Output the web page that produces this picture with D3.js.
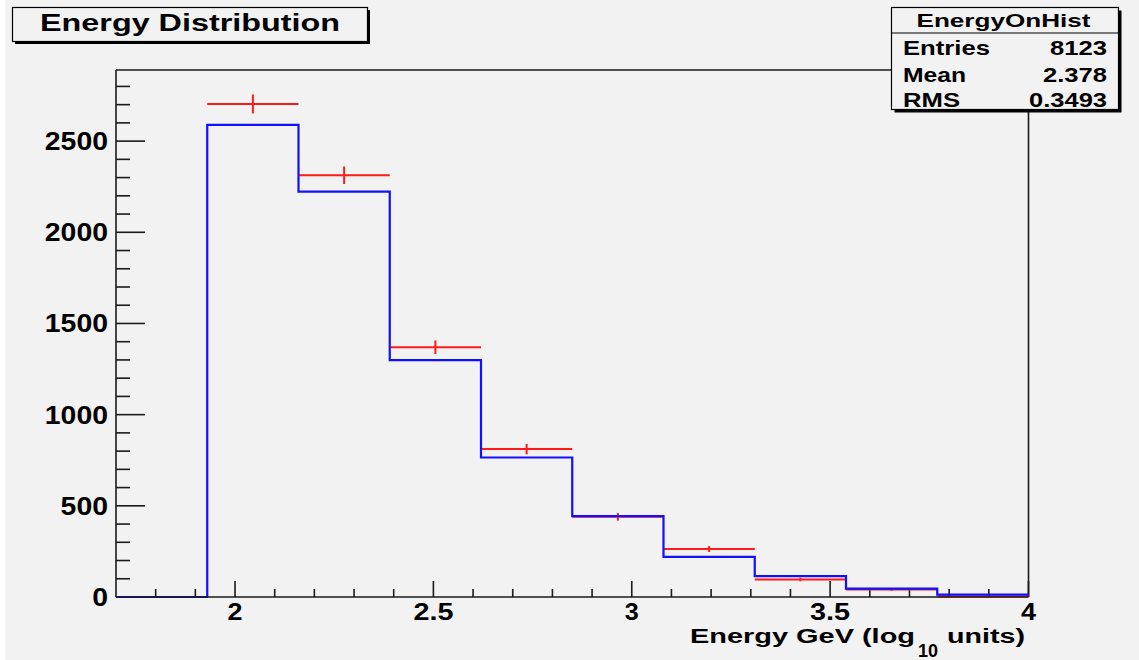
<!DOCTYPE html>
<html>
<head>
<meta charset="utf-8">
<script src="https://cdn.jsdelivr.net/npm/d3@7"></script>
<style>
  html, body { margin: 0; padding: 0; background: #ffffff; }
  svg { display: block; }
  text { font-family: "Liberation Sans", Arial, Helvetica, sans-serif; font-weight: bold; fill: #000; }
</style>
</head>
<body>
<svg id="chart" width="1139" height="660"></svg>
<script>
// Histogram binning: 10 bins of width 0.23 from 1.70 to 4.00 (log10 GeV)
const binLowEdges = [1.70, 1.93, 2.16, 2.39, 2.62, 2.85, 3.08, 3.31, 3.54, 3.77];
const binWidth = 0.23;

// "EnergyOnHist" contents (red points with sqrt(N) errors)
const onCounts = [0, 2704, 2313, 1370, 811, 440, 263, 96, 41, 3];
// Comparison histogram contents (blue outline)
const offCounts = [0, 2589, 2223, 1299, 765, 443, 220, 114, 46, 13];

// Axis tick labels
const xTickValues = [2, 2.5, 3, 3.5, 4];
const xTickLabels = ["2", "2.5", "3", "3.5", "4"];
const yTickValues = [0, 500, 1000, 1500, 2000, 2500];
const yTickLabels = ["0", "500", "1000", "1500", "2000", "2500"];

// Statistics box rows
const statsTitle = "EnergyOnHist";
const statsNames = ["Entries", "Mean", "RMS"];
const statsValues = ["8123", "2.378", "0.3493"];

const chartTitle = "Energy Distribution";

const svg = d3.select("#chart");
const W = 1139, H = 660;

// canvas
svg.append("rect").attr("x", 0).attr("y", 0).attr("width", W).attr("height", H).attr("fill", "#ffffff");
svg.append("rect").attr("x", 5).attr("y", 0).attr("width", W - 5).attr("height", H).attr("fill", "#f2f2f2");

// frame geometry
const fx0 = 116, fx1 = 1028.5, fy0 = 70, fy1 = 597;
const x = d3.scaleLinear().domain([1.70, 4.00]).range([fx0, fx1]);
const y = d3.scaleLinear().domain([0, 2890]).range([fy1, fy0]);

const axisColor = "#1a1a1a";

// frame outline (top and right)
svg.append("path")
  .attr("d", `M${fx0},${fy0}H${fx1}V${fy1}`)
  .attr("fill", "none").attr("stroke", axisColor).attr("stroke-width", 1.6);

// Y axis with inward ticks
const yMinor = d3.range(0, 2890, 100);
const gy = svg.append("g");
gy.selectAll("line.minor").data(yMinor.filter(v => v % 500 !== 0)).join("line")
  .attr("x1", fx0).attr("x2", fx0 + 14)
  .attr("y1", d => y(d)).attr("y2", d => y(d))
  .attr("stroke", axisColor).attr("stroke-width", 1.6);
gy.selectAll("line.major").data(yTickValues).join("line")
  .attr("x1", fx0).attr("x2", fx0 + 29)
  .attr("y1", d => y(d)).attr("y2", d => y(d))
  .attr("stroke", axisColor).attr("stroke-width", 1.6);
gy.selectAll("text").data(yTickValues).join("text")
  .attr("x", 108).attr("y", d => y(d) + 9)
  .attr("text-anchor", "end")
  .attr("font-size", 25)
  .attr("textLength", (d, i) => yTickLabels[i].length * 15.8)
  .attr("lengthAdjust", "spacingAndGlyphs")
  .text((d, i) => yTickLabels[i]);
gy.append("line").attr("x1", fx0).attr("x2", fx0).attr("y1", fy0).attr("y2", fy1)
  .attr("stroke", axisColor).attr("stroke-width", 1.6);

// X axis with inward ticks
const xMinor = d3.range(18, 40).map(v => v / 10);
const gx = svg.append("g");
gx.selectAll("line.minor").data(xMinor.filter(v => Math.abs(v * 2 - Math.round(v * 2)) > 1e-6)).join("line")
  .attr("x1", d => x(d)).attr("x2", d => x(d))
  .attr("y1", fy1).attr("y2", fy1 - 8)
  .attr("stroke", axisColor).attr("stroke-width", 1.6);
gx.selectAll("line.major").data(xTickValues).join("line")
  .attr("x1", d => x(d)).attr("x2", d => x(d))
  .attr("y1", fy1).attr("y2", fy1 - 16)
  .attr("stroke", axisColor).attr("stroke-width", 1.6);
const xLabelWidths = { "2": 15, "2.5": 40, "3": 14, "3.5": 40, "4": 15 };
gx.selectAll("text").data(xTickValues).join("text")
  .attr("x", d => x(d)).attr("y", 619.5)
  .attr("text-anchor", "middle")
  .attr("font-size", 23)
  .attr("textLength", (d, i) => xLabelWidths[xTickLabels[i]])
  .attr("lengthAdjust", "spacingAndGlyphs")
  .text((d, i) => xTickLabels[i]);

// red error-bar points (EnergyOnHist)
const onPts = binLowEdges.map((lo, i) => ({ lo, hi: lo + binWidth, c: lo + binWidth / 2, v: onCounts[i] }))
  .filter(d => d.v > 0);
const gOn = svg.append("g").attr("stroke", "#ff1a1a").attr("stroke-width", 2).attr("fill", "none");
gOn.selectAll("line.h").data(onPts).join("line")
  .attr("x1", d => x(d.lo)).attr("x2", d => x(d.hi))
  .attr("y1", d => y(d.v)).attr("y2", d => y(d.v));
gOn.selectAll("line.v").data(onPts).join("line")
  .attr("x1", d => x(d.c)).attr("x2", d => x(d.c))
  .attr("y1", d => y(d.v - Math.sqrt(d.v))).attr("y2", d => y(d.v + Math.sqrt(d.v)));

// blue step outline
const stepData = [];
binLowEdges.forEach((lo, i) => {
  stepData.push([lo, offCounts[i]]);
  stepData.push([lo + binWidth, offCounts[i]]);
});
const stepLine = d3.line().x(d => x(d[0])).y(d => y(d[1]));
svg.append("path")
  .attr("d", stepLine(stepData))
  .attr("fill", "none").attr("stroke", "#1010ff").attr("stroke-width", 2.2);

// bottom axis line on top of everything inside the frame
svg.append("line").attr("x1", fx0).attr("x2", fx1).attr("y1", fy1).attr("y2", fy1)
  .attr("stroke", axisColor).attr("stroke-width", 1.6);

// X axis title: Energy GeV (log_10 units)
svg.append("text").attr("x", 690).attr("y", 642.5).attr("font-size", 20)
  .attr("textLength", 225).attr("lengthAdjust", "spacingAndGlyphs").text("Energy GeV (log");
svg.append("text").attr("x", 918).attr("y", 657).attr("font-size", 17.5)
  .attr("textLength", 20).attr("lengthAdjust", "spacingAndGlyphs").text("10");
svg.append("text").attr("x", 947).attr("y", 642.5).attr("font-size", 20)
  .attr("textLength", 78).attr("lengthAdjust", "spacingAndGlyphs").text("units)");

// Title box with shadow
svg.append("rect").attr("x", 15).attr("y", 10).attr("width", 355).attr("height", 34).attr("fill", "#000");
svg.append("rect").attr("x", 12.5).attr("y", 7.5).attr("width", 355).attr("height", 34)
  .attr("fill", "#f2f2f2").attr("stroke", "#000").attr("stroke-width", 1.2);
svg.append("text").attr("x", 40).attr("y", 30.5).attr("font-size", 23.5)
  .attr("textLength", 300).attr("lengthAdjust", "spacingAndGlyphs").text(chartTitle);

// Statistics box with shadow
const sx0 = 891.5, sy0 = 7.5, sw = 227, sh = 102;
svg.append("rect").attr("x", sx0 + 3).attr("y", sy0 + 3).attr("width", sw).attr("height", sh).attr("fill", "#000");
svg.append("rect").attr("x", sx0).attr("y", sy0).attr("width", sw).attr("height", sh)
  .attr("fill", "#f2f2f2").attr("stroke", "#000").attr("stroke-width", 1.2);
svg.append("line").attr("x1", sx0).attr("x2", sx0 + sw).attr("y1", 33).attr("y2", 33)
  .attr("stroke", "#000").attr("stroke-width", 1.2);
svg.append("text").attr("x", 1003.5).attr("y", 27).attr("font-size", 19)
  .attr("text-anchor", "middle")
  .attr("textLength", 174).attr("lengthAdjust", "spacingAndGlyphs").text(statsTitle);
const nameWidths = [87, 63, 57];
const valueWidths = [57, 64, 78];
const rowBaselines = [55, 81.5, 107];
statsNames.forEach((n, i) => {
  svg.append("text").attr("x", 903).attr("y", rowBaselines[i]).attr("font-size", 21)
    .attr("textLength", nameWidths[i]).attr("lengthAdjust", "spacingAndGlyphs").text(n);
  svg.append("text").attr("x", 1107).attr("y", rowBaselines[i]).attr("font-size", 21)
    .attr("text-anchor", "end")
    .attr("textLength", valueWidths[i]).attr("lengthAdjust", "spacingAndGlyphs").text(statsValues[i]);
});
</script>
</body>
</html>
